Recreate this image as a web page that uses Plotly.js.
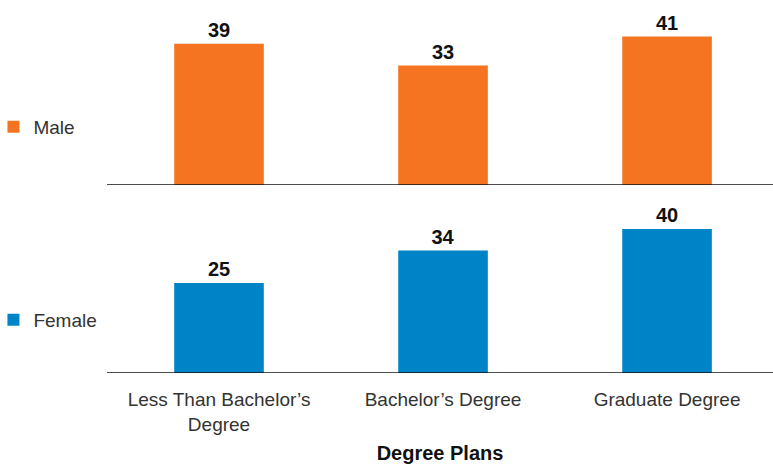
<!DOCTYPE html>
<html>
<head>
<meta charset="utf-8">
<script src="https://cdn.plot.ly/plotly-3.0.1.min.js"></script>
<style>html,body{margin:0;padding:0;background:#fff;}#chart{width:773px;height:464px;}</style>
</head>
<body>
<div id="chart"></div>
<script>
const categories = ["Less Than Bachelor’s<br>Degree", "Bachelor’s Degree", "Graduate Degree"];
const maleValues = [39, 33, 41];
const femaleValues = [25, 34, 40];
const seriesNames = ["Male", "Female"];
const xTitle = "Degree Plans";

const FONT = "Liberation Sans, Arial, sans-serif";
const orange = "#F47421";
const blue = "#0084C8";

const traces = [
  {
    type: "bar", x: categories, y: maleValues, name: seriesNames[0],
    marker: {color: orange}, width: 0.4,
    text: maleValues.map(String), textposition: "outside", cliponaxis: false,
    textfont: {family: FONT, size: 20, color: "#111", weight: "bold"},
    xaxis: "x", yaxis: "y", legend: "legend"
  },
  {
    type: "bar", x: categories, y: femaleValues, name: seriesNames[1],
    marker: {color: blue}, width: 0.4,
    text: femaleValues.map(String), textposition: "outside", cliponaxis: false,
    textfont: {family: FONT, size: 20, color: "#111", weight: "bold"},
    xaxis: "x2", yaxis: "y2", legend: "legend2"
  }
];

const layout = {
  width: 773, height: 464,
  margin: {l: 107, r: 0, t: 4, b: 91, autoexpand: false},
  paper_bgcolor: "#fff", plot_bgcolor: "#fff",
  font: {family: FONT, size: 19, color: "#333"},
  showlegend: true,
  xaxis: {
    domain: [0, 1], anchor: "y", range: [-0.5, 2.473],
    showticklabels: false, ticks: "", showgrid: false, zeroline: false,
    showline: false, fixedrange: true
  },
  yaxis: {
    domain: [0.5095, 1], anchor: "x", range: [0, 50],
    visible: false, showgrid: false, zeroline: false
  },
  xaxis2: {
    domain: [0, 1], anchor: "y2", range: [-0.5, 2.473],
    ticks: "", showgrid: false, zeroline: false, showline: false,
    ticklabelstandoff: 13,
    tickfont: {family: FONT, size: 19, color: "#333"},
    title: {text: xTitle, font: {family: FONT, size: 20, color: "#111", weight: "bold"}, standoff: 12}
  },
  yaxis2: {
    domain: [0, 0.4878], anchor: "x2", range: [0, 50],
    visible: false, showgrid: false, zeroline: false
  },
  shapes: [
    {type: "line", xref: "x domain", yref: "y", x0: 0, x1: 1, y0: 0, y1: 0, line: {color: "#111", width: 1.5}},
    {type: "line", xref: "x2 domain", yref: "y2", x0: 0, x1: 1, y0: 0, y1: 0, line: {color: "#111", width: 1.5}}
  ],
  legend: {
    x: -0.1705, xanchor: "left", y: 0.667, yanchor: "middle",
    font: {family: FONT, size: 19, color: "#333"}, bgcolor: "rgba(0,0,0,0)"
  },
  legend2: {
    x: -0.1705, xanchor: "left", y: 0.1436, yanchor: "middle",
    font: {family: FONT, size: 19, color: "#333"}, bgcolor: "rgba(0,0,0,0)"
  }
};

Plotly.newPlot("chart", traces, layout, {displayModeBar: false, staticPlot: true});
</script>
</body>
</html>
